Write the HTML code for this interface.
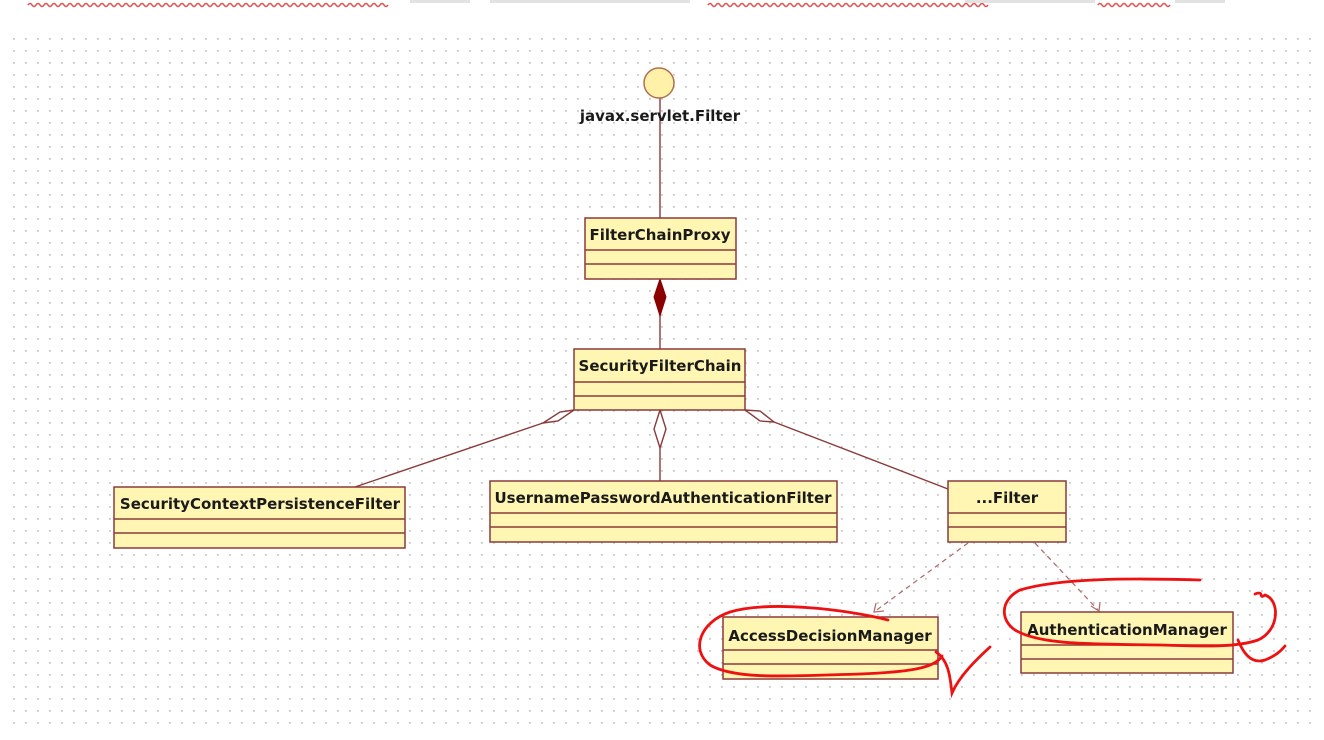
<!DOCTYPE html>
<html><head><meta charset="utf-8"><style>
html,body{margin:0;padding:0;background:#fff;}
svg{display:block;}
text{font-family:"DejaVu Sans","Liberation Sans",sans-serif;font-weight:bold;font-size:15px;fill:#1a1a1a;}
</style></head><body>
<svg width="1324" height="740" viewBox="0 0 1324 740" xmlns="http://www.w3.org/2000/svg">
<defs>
<pattern id="dots" x="13" y="38" width="12" height="12" patternUnits="userSpaceOnUse">
<rect x="0" y="0" width="1.8" height="1.8" fill="#c8c8c8"/>
</pattern>
</defs>
<rect x="0" y="0" width="1324" height="740" fill="#fff"/>
<rect x="10" y="36" width="1310" height="696" fill="url(#dots)"/>
<path d="M28 5 q2 -3 4 0 t4 0 t4 0 t4 0 t4 0 t4 0 t4 0 t4 0 t4 0 t4 0 t4 0 t4 0 t4 0 t4 0 t4 0 t4 0 t4 0 t4 0 t4 0 t4 0 t4 0 t4 0 t4 0 t4 0 t4 0 t4 0 t4 0 t4 0 t4 0 t4 0 t4 0 t4 0 t4 0 t4 0 t4 0 t4 0 t4 0 t4 0 t4 0 t4 0 t4 0 t4 0 t4 0 t4 0 t4 0 t4 0 t4 0 t4 0 t4 0 t4 0 t4 0 t4 0 t4 0 t4 0 t4 0 t4 0 t4 0 t4 0 t4 0 t4 0 t4 0 t4 0 t4 0 t4 0 t4 0 t4 0 t4 0 t4 0 t4 0 t4 0 t4 0 t4 0 t4 0 t4 0 t4 0 t4 0 t4 0 t4 0 t4 0 t4 0 t4 0 t4 0 t4 0 t4 0 t4 0 t4 0 t4 0 t4 0 t4 0 t4 0" fill="none" stroke="#e05050" stroke-width="1.5"/>
<path d="M708 5 q2 -3 4 0 t4 0 t4 0 t4 0 t4 0 t4 0 t4 0 t4 0 t4 0 t4 0 t4 0 t4 0 t4 0 t4 0 t4 0 t4 0 t4 0 t4 0 t4 0 t4 0 t4 0 t4 0 t4 0 t4 0 t4 0 t4 0 t4 0 t4 0 t4 0 t4 0 t4 0 t4 0 t4 0 t4 0 t4 0 t4 0 t4 0 t4 0 t4 0 t4 0 t4 0 t4 0 t4 0 t4 0 t4 0 t4 0 t4 0 t4 0 t4 0 t4 0 t4 0 t4 0 t4 0 t4 0 t4 0 t4 0 t4 0 t4 0 t4 0 t4 0 t4 0 t4 0 t4 0 t4 0 t4 0 t4 0 t4 0 t4 0 t4 0 t4 0" fill="none" stroke="#e05050" stroke-width="1.5"/>
<path d="M1098 5 q2 -3 4 0 t4 0 t4 0 t4 0 t4 0 t4 0 t4 0 t4 0 t4 0 t4 0 t4 0 t4 0 t4 0 t4 0 t4 0 t4 0 t4 0 t4 0" fill="none" stroke="#e05050" stroke-width="1.5"/>
<g fill="#e2e2e2"><rect x="410" y="0" width="60" height="3"/><rect x="490" y="0" width="200" height="3"/><rect x="965" y="0" width="130" height="3"/><rect x="1175" y="0" width="50" height="3"/></g>

<g stroke="#8b3a3a" stroke-width="1.4" fill="none">
<line x1="660" y1="98" x2="660" y2="218"/>
<line x1="660" y1="279" x2="660" y2="349"/>
<line x1="543" y1="423" x2="355" y2="487"/>
<line x1="660" y1="448" x2="660" y2="481"/>
<line x1="774" y1="422" x2="948" y2="489"/>
</g>
<circle cx="659" cy="83" r="15" fill="#fff2a8" stroke="#b07050" stroke-width="1.5"/>
<text x="660" y="121" text-anchor="middle" font-size="14">javax.servlet.Filter</text>
<polygon points="660,279 666,297 660,316 654,297" fill="#8b0000" stroke="#8b0000"/>
<g fill="#fff" stroke="#8b3a3a" stroke-width="1.4">
<polygon points="574,410 560,412 543,423 558,421"/>
<polygon points="660,410 666,429 660,448 654,429"/>
<polygon points="745,410 760,411 774,422 760,421"/>
</g>
<g stroke="#b07070" stroke-width="1.3" fill="none" stroke-dasharray="5,4">
<line x1="968" y1="543" x2="874" y2="612"/>
<line x1="1035" y1="543" x2="1098" y2="610"/>
</g>
<g stroke="#b07070" stroke-width="1.3" fill="none">
<polyline points="876,603 874,612 884,611"/>
<polyline points="1091,606 1099,611 1100,602"/>
</g>

<g fill="#fff6b4" stroke="#8b3a3a" stroke-width="1.5">
<rect x="585" y="218" width="151" height="61"/>
<rect x="574" y="349" width="171" height="61"/>
<rect x="114" y="487" width="291" height="61"/>
<rect x="490" y="481" width="347" height="61"/>
<rect x="948" y="481" width="118" height="61"/>
<rect x="723" y="617" width="215" height="62"/>
<rect x="1021" y="612" width="212" height="61"/>
</g>
<g stroke="#8b3a3a" stroke-width="1.4">
<line x1="585" y1="250" x2="736" y2="250"/><line x1="585" y1="264" x2="736" y2="264"/>
<line x1="574" y1="382" x2="745" y2="382"/><line x1="574" y1="396" x2="745" y2="396"/>
<line x1="114" y1="519" x2="405" y2="519"/><line x1="114" y1="533" x2="405" y2="533"/>
<line x1="490" y1="513" x2="837" y2="513"/><line x1="490" y1="527" x2="837" y2="527"/>
<line x1="948" y1="513" x2="1066" y2="513"/><line x1="948" y1="527" x2="1066" y2="527"/>
<line x1="723" y1="650" x2="938" y2="650"/><line x1="723" y1="664" x2="938" y2="664"/>
<line x1="1021" y1="645" x2="1233" y2="645"/><line x1="1021" y1="659" x2="1233" y2="659"/>
</g>
<text x="660" y="240" text-anchor="middle">FilterChainProxy</text>
<text x="660" y="371" text-anchor="middle">SecurityFilterChain</text>
<text x="260" y="509" text-anchor="middle">SecurityContextPersistenceFilter</text>
<text x="663" y="503" text-anchor="middle">UsernamePasswordAuthenticationFilter</text>
<text x="1007" y="503" text-anchor="middle">...Filter</text>
<text x="830" y="641" text-anchor="middle">AccessDecisionManager</text>
<text x="1127" y="635" text-anchor="middle">AuthenticationManager</text>

<g stroke="#ee1111" stroke-width="2.8" fill="none" stroke-linecap="round">
<path d="M888 620 C850 610 770 600 730 612 C700 622 690 650 710 665 C735 680 790 676 860 674 C910 672 935 668 942 656"/>
<path d="M936 652 C948 660 950 675 952 693 C960 675 978 658 990 647"/>
<path d="M1200 580 C1130 578 1060 578 1020 590 C1000 600 1000 620 1015 630 C1040 645 1090 644 1160 645 C1200 646 1235 648 1258 640 C1280 630 1280 600 1265 595 C1258 600 1265 590 1255 594"/>
<path d="M1238 640 C1242 650 1250 665 1265 660 C1275 656 1280 652 1285 646"/>
</g>
</svg>
</body></html>
